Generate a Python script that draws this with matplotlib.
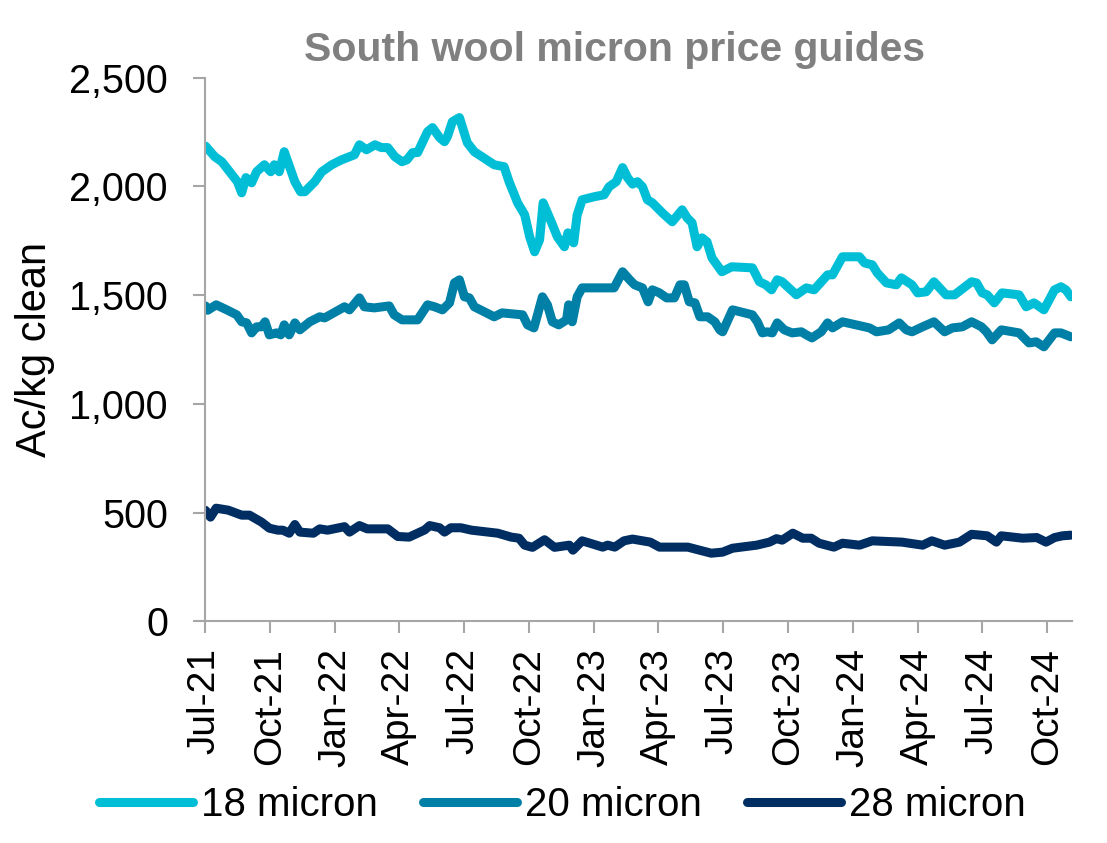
import matplotlib
matplotlib.use('Agg')
import matplotlib.pyplot as plt
import matplotlib.dates as mdates
import pandas as pd

plt.rcParams['font.family'] = ['Liberation Sans', 'DejaVu Sans']

# 18 micron price guide (Ac/kg clean)
dates_18 = ['2021-07-02', '2021-07-15', '2021-07-25', '2021-08-16', '2021-08-22', '2021-08-28',
            '2021-09-05', '2021-09-12', '2021-09-23', '2021-10-02', '2021-10-07', '2021-10-14',
            '2021-10-21', '2021-11-05', '2021-11-13', '2021-11-19', '2021-12-03', '2021-12-13',
            '2021-12-27', '2022-01-10', '2022-01-28', '2022-02-04', '2022-02-14', '2022-02-26',
            '2022-03-07', '2022-03-16', '2022-03-26', '2022-04-05', '2022-04-12', '2022-04-20',
            '2022-04-27', '2022-05-11', '2022-05-18', '2022-05-28', '2022-06-04', '2022-06-08',
            '2022-06-15', '2022-06-25', '2022-07-06', '2022-07-16', '2022-08-13', '2022-08-27',
            '2022-09-03', '2022-09-15', '2022-09-25', '2022-10-02', '2022-10-09', '2022-10-16',
            '2022-10-21', '2022-11-02', '2022-11-10', '2022-11-20', '2022-11-25', '2022-12-03',
            '2022-12-08', '2022-12-15', '2023-01-01', '2023-01-15', '2023-01-22', '2023-02-01',
            '2023-02-10', '2023-02-17', '2023-02-24', '2023-03-03', '2023-03-10', '2023-03-17',
            '2023-03-24', '2023-04-07', '2023-04-21', '2023-05-05', '2023-05-12', '2023-05-19',
            '2023-05-26', '2023-06-02', '2023-06-09', '2023-06-16', '2023-06-30', '2023-07-14',
            '2023-08-12', '2023-08-22', '2023-08-31', '2023-09-08', '2023-09-16', '2023-09-23',
            '2023-10-13', '2023-10-27', '2023-11-07', '2023-11-26', '2023-12-03', '2023-12-17',
            '2024-01-10', '2024-01-17', '2024-01-28', '2024-02-04', '2024-02-17', '2024-03-02',
            '2024-03-09', '2024-03-24', '2024-04-01', '2024-04-13', '2024-04-24', '2024-05-11',
            '2024-05-23', '2024-06-16', '2024-06-23', '2024-07-01', '2024-07-08', '2024-07-18',
            '2024-07-29', '2024-08-22', '2024-09-01', '2024-09-12', '2024-09-26', '2024-10-11',
            '2024-10-20', '2024-10-27', '2024-11-03']
micron_18 = [2185, 2136, 2113, 2021, 1970, 2040,
             2016, 2067, 2099, 2067, 2099, 2067,
             2159, 2021, 1975, 1975, 2021, 2067,
             2099, 2122, 2145, 2191, 2168, 2191,
             2178, 2178, 2136, 2113, 2122, 2155,
             2155, 2251, 2270, 2224, 2205, 2228,
             2297, 2316, 2201, 2159, 2099, 2090,
             2021, 1924, 1869, 1768, 1699, 1754,
             1924, 1832, 1768, 1722, 1786, 1740,
             1869, 1938, 1952, 1961, 1998, 2021,
             2086, 2040, 2010, 2021, 1998, 1938,
             1924, 1878, 1837, 1892, 1855, 1832,
             1722, 1763, 1745, 1671, 1607, 1630,
             1625, 1561, 1547, 1524, 1570, 1561,
             1501, 1533, 1524, 1593, 1593, 1676,
             1676, 1648, 1639, 1602, 1556, 1547,
             1579, 1547, 1510, 1515, 1561, 1501,
             1501, 1561, 1556, 1510, 1501, 1464,
             1510, 1501, 1446, 1464, 1432, 1524,
             1538, 1524, 1492]

# 20 micron price guide
dates_20 = ['2021-07-02', '2021-07-05', '2021-07-17', '2021-08-01', '2021-08-15', '2021-08-22',
            '2021-08-29', '2021-09-05', '2021-09-12', '2021-09-19', '2021-09-24', '2021-09-30',
            '2021-10-10', '2021-10-16', '2021-10-21', '2021-10-28', '2021-11-05', '2021-11-12',
            '2021-11-26', '2021-12-10', '2021-12-17', '2022-01-14', '2022-01-21', '2022-02-04',
            '2022-02-11', '2022-02-25', '2022-03-18', '2022-03-25', '2022-04-05', '2022-04-27',
            '2022-05-11', '2022-05-21', '2022-06-01', '2022-06-11', '2022-06-18', '2022-06-25',
            '2022-07-02', '2022-07-09', '2022-07-16', '2022-08-13', '2022-08-24', '2022-09-22',
            '2022-09-29', '2022-10-08', '2022-10-20', '2022-10-27', '2022-11-03', '2022-11-12',
            '2022-11-23', '2022-11-26', '2022-12-01', '2022-12-08', '2022-12-15', '2023-01-04',
            '2023-01-29', '2023-02-10', '2023-02-20', '2023-02-27', '2023-03-10', '2023-03-18',
            '2023-03-24', '2023-04-03', '2023-04-13', '2023-04-24', '2023-05-02', '2023-05-08',
            '2023-05-15', '2023-05-23', '2023-05-30', '2023-06-10', '2023-06-20', '2023-06-27',
            '2023-07-01', '2023-07-15', '2023-08-12', '2023-08-19', '2023-08-26', '2023-09-02',
            '2023-09-09', '2023-09-16', '2023-09-26', '2023-10-07', '2023-10-20', '2023-10-27',
            '2023-11-04', '2023-11-17', '2023-11-26', '2023-12-03', '2023-12-17', '2024-01-24',
            '2024-02-03', '2024-02-20', '2024-03-06', '2024-03-16', '2024-03-24', '2024-04-08',
            '2024-04-24', '2024-05-09', '2024-05-20', '2024-06-03', '2024-06-16', '2024-06-30',
            '2024-07-07', '2024-07-15', '2024-07-28', '2024-08-22', '2024-09-05', '2024-09-15',
            '2024-09-26', '2024-10-11', '2024-10-20', '2024-11-03']
micron_20 = [1450, 1430, 1455, 1432, 1409, 1377,
             1372, 1326, 1354, 1354, 1377, 1317,
             1326, 1317, 1363, 1317, 1372, 1340,
             1377, 1400, 1395, 1446, 1432, 1487,
             1446, 1441, 1450, 1409, 1386, 1386,
             1455, 1446, 1432, 1464, 1556, 1570,
             1492, 1487, 1446, 1400, 1418, 1409,
             1363, 1349, 1492, 1455, 1377, 1363,
             1386, 1455, 1377, 1492, 1533, 1533,
             1533, 1607, 1570, 1547, 1533, 1469,
             1524, 1510, 1487, 1487, 1547, 1547,
             1469, 1464, 1400, 1400, 1377, 1340,
             1331, 1432, 1409, 1377, 1326, 1331,
             1326, 1372, 1340, 1326, 1331, 1317,
             1303, 1331, 1372, 1349, 1377, 1349,
             1331, 1340, 1372, 1340, 1331, 1354,
             1377, 1331, 1349, 1354, 1377, 1354,
             1331, 1294, 1340, 1326, 1280, 1285,
             1262, 1326, 1326, 1308]

# 28 micron price guide
dates_28 = ['2021-07-02', '2021-07-09', '2021-07-17', '2021-08-03', '2021-08-22', '2021-09-02',
            '2021-09-19', '2021-09-30', '2021-10-12', '2021-10-19', '2021-10-28', '2021-11-05',
            '2021-11-12', '2021-12-01', '2021-12-10', '2021-12-21', '2022-01-14', '2022-01-21',
            '2022-02-04', '2022-02-15', '2022-03-16', '2022-03-30', '2022-04-15', '2022-05-07',
            '2022-05-14', '2022-05-28', '2022-06-04', '2022-06-13', '2022-06-27', '2022-07-12',
            '2022-08-18', '2022-09-06', '2022-09-17', '2022-09-25', '2022-10-06', '2022-10-23',
            '2022-11-06', '2022-11-27', '2022-12-02', '2022-12-15', '2023-01-13', '2023-01-20',
            '2023-01-30', '2023-02-12', '2023-02-24', '2023-03-21', '2023-04-03', '2023-05-13',
            '2023-06-15', '2023-07-01', '2023-07-15', '2023-08-18', '2023-09-05', '2023-09-15',
            '2023-09-23', '2023-10-08', '2023-10-22', '2023-11-03', '2023-11-14', '2023-12-05',
            '2023-12-17', '2024-01-10', '2024-01-28', '2024-03-10', '2024-04-08', '2024-04-21',
            '2024-05-09', '2024-05-30', '2024-06-16', '2024-07-08', '2024-07-21', '2024-07-28',
            '2024-08-27', '2024-09-16', '2024-09-29', '2024-10-11', '2024-10-22', '2024-11-03']
micron_28 = [510, 479, 520, 511, 488, 488,
             456, 428, 419, 419, 405, 445,
             410, 405, 425, 419, 435, 410,
             440, 425, 425, 390, 387, 420,
             440, 430, 410, 430, 430, 419,
             405, 387, 382, 350, 340, 375,
             340, 350, 327, 370, 341, 350,
             341, 370, 378, 364, 341, 341,
             313, 318, 336, 350, 364, 380,
             373, 405, 382, 382, 359, 341,
             359, 350, 370, 364, 350, 370,
             350, 364, 400, 393, 364, 393,
             382, 385, 364, 385, 393, 396]

series = [
    ('18 micron', dates_18, micron_18, '#00BED6'),
    ('20 micron', dates_20, micron_20, '#0080A6'),
    ('28 micron', dates_28, micron_28, '#002D62'),
]

fig = plt.figure(figsize=(11.07, 8.43), dpi=100)
ax = fig.add_axes([0.185, 0.263, 0.783, 0.645])

for name, d, v, col in series:
    ax.plot(pd.to_datetime(d), v, color=col, lw=6.5, label=name,
            solid_joinstyle='round', solid_capstyle='round')

ax.set_xlim(pd.Timestamp('2021-07-01'), pd.Timestamp('2024-11-04'))
ax.set_ylim(0, 2500)
ax.set_yticks([0, 500, 1000, 1500, 2000, 2500])
ax.yaxis.set_major_formatter(matplotlib.ticker.FuncFormatter(lambda v, p: '{:,.0f}'.format(v)))
ax.xaxis.set_major_locator(mdates.MonthLocator(bymonth=[1, 4, 7, 10]))
ax.xaxis.set_major_formatter(mdates.DateFormatter('%b-%y'))

for s in ['top', 'right']:
    ax.spines[s].set_visible(False)
for s in ['left', 'bottom']:
    ax.spines[s].set_color('#A6A6A6')
    ax.spines[s].set_linewidth(1.5)

ax.tick_params(axis='both', colors='#A6A6A6', width=1.5, length=8.5, labelcolor='black', labelsize=28.5)
ax.tick_params(axis='y', pad=18)
ax.tick_params(axis='x', rotation=90, pad=11, labelsize=28)
for lab in ax.get_xticklabels():
    lab.set_verticalalignment('top')

ax.set_ylabel('Ac/kg clean', fontsize=30, labelpad=10)
ax.set_title('South wool micron price guides', fontsize=29.5, fontweight='bold', color='#808080',
             pad=12, x=0.473)

fig.legend(loc='center', bbox_to_anchor=(0.508, 0.045), ncol=3, frameon=False,
           fontsize=29, handlelength=2.35, handletextpad=0.2, columnspacing=1.1)

fig.savefig('out.png', dpi=100)
